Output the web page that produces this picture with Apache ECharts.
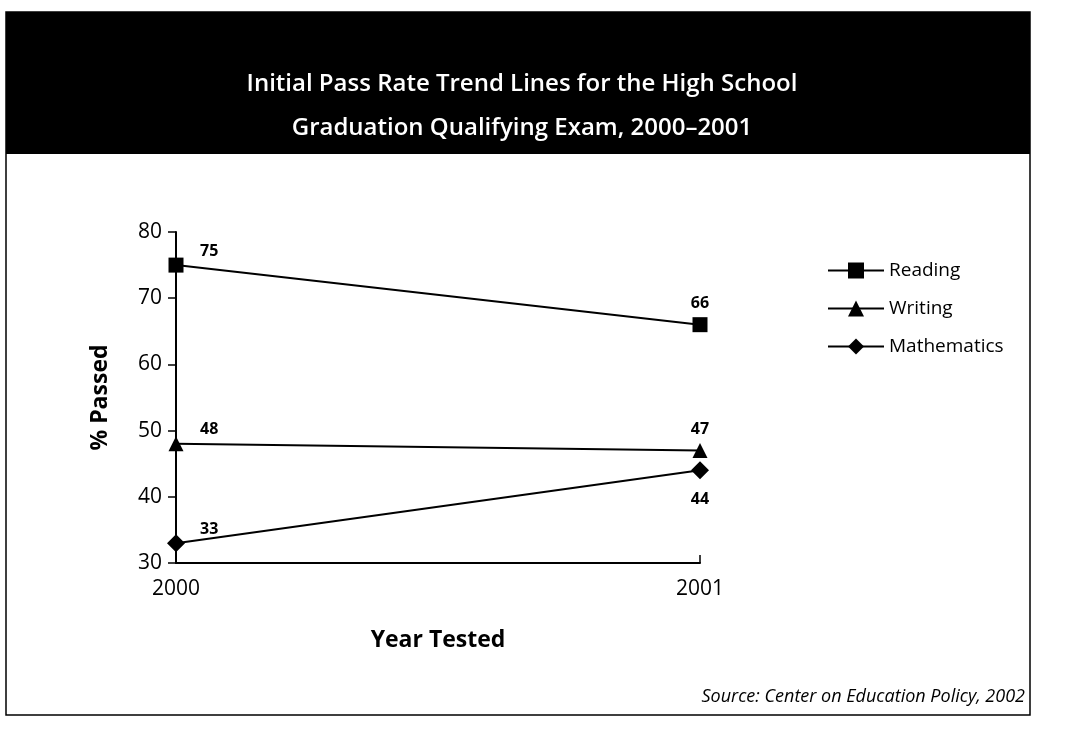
<!DOCTYPE html>
<html>
<head>
<meta charset="utf-8">
<script src="https://cdn.jsdelivr.net/npm/echarts@6/dist/echarts.min.js"></script>
<style>
  html, body { margin: 0; padding: 0; background: #fff; }
  #chart { width: 1073px; height: 729px; }
</style>
</head>
<body>
<div id="chart"></div>
<script>
// data
const years = ['2000', '2001']
const reading = [75, 66]
const writing = [48, 47]
const mathematics = [33, 44]
const yTicks = [30, 40, 50, 60, 70, 80]

const font = '"Open Sans", Lato, sans-serif'
const myChart = echarts.init(document.getElementById('chart'))

// where the 2001 label sits: above, except maths which is below
const endLabel = {
  Reading: { position: 'top', distance: 6 },
  Writing: { position: 'top', distance: 6 },
  Mathematics: { position: 'bottom', distance: 12 }
}

function makeSeries(name, values, symbol, size) {
  return {
    name: name,
    type: 'line',
    data: values.map((v, i) => ({
      value: v,
      label: i === 0 ? { position: [size / 2 + 24, size / 2 - 22] } : endLabel[name]
    })),
    symbol: symbol,
    symbolSize: size,
    lineStyle: { color: '#000', width: 2 },
    itemStyle: { color: '#000' },
    label: {
      show: true,
      color: '#000',
      fontFamily: font,
      fontWeight: 'bold',
      fontSize: 16
    }
  }
}

myChart.setOption({
  animation: false,
  backgroundColor: '#fff',
  textStyle: { fontFamily: font },
  graphic: [
    {
      type: 'rect',
      shape: { x: 6, y: 12, width: 1024, height: 703 },
      style: { fill: 'none', stroke: '#000', lineWidth: 1.5 },
      z: -1
    },
    {
      type: 'rect',
      shape: { x: 6, y: 12, width: 1024, height: 142 },
      style: { fill: '#000' },
      z: -1
    },
    {
      type: 'text',
      x: 522,
      y: 62,
      style: {
        text: 'Initial Pass Rate Trend Lines for the High School\nGraduation Qualifying Exam, 2000–2001',
        fill: '#fff',
        font: '600 24px ' + font,
        lineHeight: 44,
        align: 'center'
      }
    },
    {
      type: 'text',
      right: 48,
      top: 688,
      style: {
        text: 'Source: Center on Education Policy, 2002',
        fill: '#000',
        font: 'italic 18px ' + font
      }
    }
  ],
  legend: {
    orient: 'vertical',
    left: 822,
    top: 256,
    itemGap: 19,
    itemWidth: 56,
    itemHeight: 20,
    textStyle: { color: '#000', fontSize: 19, fontFamily: font },
    data: ['Reading', 'Writing', 'Mathematics']
  },
  grid: { left: 176, right: 373, top: 232, bottom: 166 },
  xAxis: {
    type: 'category',
    data: years,
    boundaryGap: false,
    name: 'Year Tested',
    nameLocation: 'middle',
    nameGap: 66,
    nameTextStyle: { color: '#000', fontSize: 23, fontWeight: 'bold', fontFamily: font },
    axisLine: { lineStyle: { color: '#000', width: 2 } },
    axisTick: { show: true, inside: true, length: 8, lineStyle: { color: '#000', width: 1.5 } },
    axisLabel: { color: '#000', fontSize: 21, margin: 16, fontFamily: font }
  },
  yAxis: {
    type: 'value',
    min: yTicks[0],
    max: yTicks[yTicks.length - 1],
    interval: 10,
    name: '% Passed',
    nameLocation: 'middle',
    nameGap: 64,
    nameTextStyle: { color: '#000', fontSize: 23, fontWeight: 'bold', fontFamily: font },
    splitLine: { show: false },
    axisLine: { show: true, lineStyle: { color: '#000', width: 2 } },
    axisTick: { show: true, length: 8, lineStyle: { color: '#000', width: 1.5 } },
    axisLabel: { color: '#000', fontSize: 21, margin: 14, fontFamily: font }
  },
  series: [
    makeSeries('Reading', reading, 'rect', 15),
    makeSeries('Writing', writing, 'triangle', 15),
    makeSeries('Mathematics', mathematics, 'diamond', 18)
  ]
})
</script>
</body>
</html>
